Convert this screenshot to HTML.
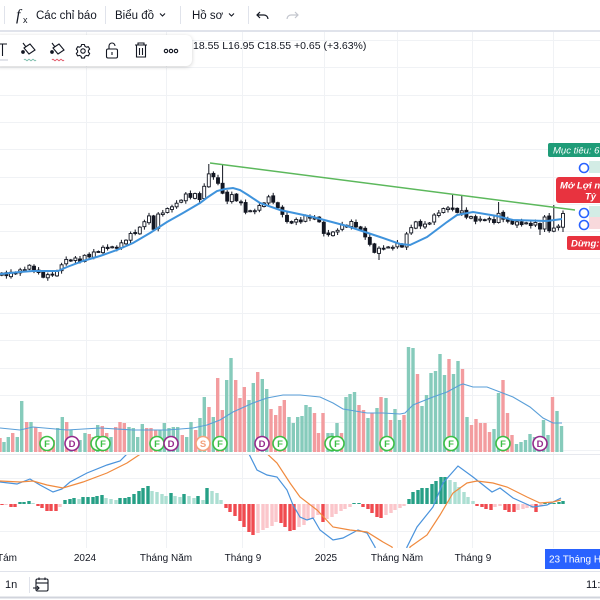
<!DOCTYPE html>
<html><head><meta charset="utf-8">
<style>
html,body{margin:0;padding:0;background:#fff;}
body{width:600px;height:600px;overflow:hidden;position:relative;font-family:"Liberation Sans","DejaVu Sans",sans-serif;color:#131722;}
svg{position:absolute;left:0;top:0;}
.tb{position:absolute;left:-6px;top:35px;width:198px;height:31px;background:#fff;border-radius:6px;box-shadow:0 1px 4px rgba(0,0,0,0.18);}
</style></head>
<body>
<svg id="c" width="600" height="600" viewBox="0 0 600 600" xmlns="http://www.w3.org/2000/svg" font-family="Liberation Sans, DejaVu Sans, sans-serif">
  <defs>
    <clipPath id="mclip"><rect x="0" y="455" width="600" height="93"/></clipPath>
    <clipPath id="pclip"><rect x="0" y="32" width="600" height="422"/></clipPath>
  </defs>
  <g id="grid" stroke="#f0f2f5" stroke-width="1"></g>
  <g id="vol"></g>
  <polyline id="vma" fill="none" stroke="#5a9fd8" stroke-width="1.1"></polyline>
  <g id="evt"></g>
  <g id="candles" clip-path="url(#pclip)"></g>
  <polyline id="ma" fill="none" stroke="#3f93dc" stroke-width="2"></polyline>
  <line x1="210" y1="163" x2="575" y2="210" stroke="#5cb85c" stroke-width="1.5"/>
  <!-- right side position tool -->
  <rect x="589" y="161" width="11" height="12" fill="#d3ece5"/>
  <rect x="589" y="206" width="11" height="11" fill="#d3ece5"/>
  <rect x="589" y="217" width="11" height="12" fill="#f8d9dc"/>
  <rect x="548" y="143" width="60" height="14" rx="2" fill="#1f9c78"/>
  <text x="553" y="153.5" font-size="9.5" font-style="italic" fill="#fff">Mục tiêu: 6</text>
  <circle cx="584" cy="168" r="4.5" fill="#fff" stroke="#2962ff" stroke-width="1.6"/>
  <rect x="556" y="177" width="52" height="26" rx="3" fill="#e8333f"/>
  <text x="560" y="188.5" font-size="9.5" font-style="italic" font-weight="bold" fill="#fff">Mở Lợi n</text>
  <text x="585" y="199.5" font-size="9.5" font-style="italic" font-weight="bold" fill="#fff">Tỷ</text>
  <circle cx="584" cy="213" r="4.5" fill="#fff" stroke="#2962ff" stroke-width="1.6"/>
  <circle cx="584" cy="225" r="4.5" fill="#fff" stroke="#2962ff" stroke-width="1.6"/>
  <rect x="567" y="236" width="40" height="14" rx="2" fill="#e8333f"/>
  <text x="571" y="246.5" font-size="9.5" font-style="italic" font-weight="bold" fill="#fff">Dừng:</text>

  <!-- pane separator -->
  <line x1="0" y1="454.5" x2="600" y2="454.5" stroke="#e6e8ee" stroke-width="1"/>
  <g id="hist"></g>
  <g clip-path="url(#mclip)">
    <polyline id="mblue" fill="none" stroke="#4a93dc" stroke-width="1.2"></polyline>
    <polyline id="morange" fill="none" stroke="#f08a3e" stroke-width="1.2"></polyline>
  </g>

  <!-- time axis -->
  <g font-size="10" fill="#131722">
    <text x="-3" y="561">Tám</text>
    <text x="85" y="561" text-anchor="middle">2024</text>
    <text x="166" y="561" text-anchor="middle">Tháng Năm</text>
    <text x="243" y="561" text-anchor="middle">Tháng 9</text>
    <text x="326" y="561" text-anchor="middle">2025</text>
    <text x="397" y="561" text-anchor="middle">Tháng Năm</text>
    <text x="473" y="561" text-anchor="middle">Tháng 9</text>
  </g>
  <rect x="545" y="549" width="60" height="20" fill="#2962ff"/>
  <text x="549" y="562.5" font-size="10" fill="#fff">23 Tháng Ha</text>

  <!-- bottom bar -->
  <line x1="0" y1="571.5" x2="600" y2="571.5" stroke="#e0e3eb" stroke-width="1"/>
  <text x="5" y="588" font-size="11" fill="#131722">1n</text>
  <line x1="29.5" y1="577" x2="29.5" y2="593" stroke="#e0e3eb" stroke-width="1"/>
  <g fill="none" stroke="#131722" stroke-width="1.1">
    <rect x="36" y="579" width="12" height="12" rx="1.5"/>
    <line x1="36" y1="583" x2="48" y2="583"/>
    <line x1="39" y1="577.5" x2="39" y2="580"/>
    <line x1="45" y1="577.5" x2="45" y2="580"/>
    <path d="M33 588 h6 M37 586 l2 2 l-2 2"/>
  </g>
  <text x="586" y="588" font-size="11" fill="#131722">11:</text>
  <line x1="0" y1="597.5" x2="600" y2="597.5" stroke="#d1d4dc" stroke-width="2"/>

  <!-- top toolbar -->
  <rect x="0" y="0" width="600" height="30" fill="#fff"/>
  <rect x="0" y="30" width="600" height="2" fill="#e0e3eb"/>
  <line x1="4.5" y1="6" x2="4.5" y2="24" stroke="#e0e3eb"/>
  <text x="16" y="20" font-size="16" font-style="italic" font-family="Liberation Serif, serif" fill="#131722">f</text>
  <text x="23" y="23" font-size="9" fill="#131722">x</text>
  <text x="36" y="19" font-size="11.5" fill="#131722">Các chỉ báo</text>
  <line x1="105.5" y1="6" x2="105.5" y2="24" stroke="#e0e3eb"/>
  <text x="115" y="19" font-size="11.5" fill="#131722">Biểu đồ</text>
  <path d="M160 13.5 l2.5 2.5 l2.5 -2.5" fill="none" stroke="#131722" stroke-width="1.1"/>
  <line x1="180.5" y1="6" x2="180.5" y2="24" stroke="#e0e3eb"/>
  <text x="192" y="19" font-size="11.5" fill="#131722">Hồ sơ</text>
  <path d="M229 13.5 l2.5 2.5 l2.5 -2.5" fill="none" stroke="#131722" stroke-width="1.1"/>
  <line x1="248.5" y1="6" x2="248.5" y2="24" stroke="#e0e3eb"/>
  <path d="M260 12 l-3 3 l3 3 M257 15 h7 a4 4 0 0 1 4 4" fill="none" stroke="#131722" stroke-width="1.2"/>
  <path d="M295 12 l3 3 l-3 3 M298 15 h-7 a4 4 0 0 0 -4 4" fill="none" stroke="#c3c6ce" stroke-width="1.2"/>

  <!-- OHLC legend -->
  <text x="193" y="49" font-size="10.5" fill="#131722">18.55 L16.95 C18.55 +0.65 (+3.63%)</text>
</svg>

<div class="tb">
<svg width="198" height="31" viewBox="0 0 198 31" style="position:absolute;left:0;top:0" xmlns="http://www.w3.org/2000/svg">
  <g transform="translate(6,0)" fill="none" stroke="#131722" stroke-width="1.1">
    <path d="M-2 9 h9 M2.5 9 v12"/>
    <line x1="-2" y1="25" x2="8" y2="25" stroke="#d8dbe2" stroke-width="1.5"/>
    <!-- bucket 1 -->
    <path d="M24 13 l6 -4 l5 6 l-6 4 z"/>
    <path d="M26 12 l-3 -4"/>
    <circle cx="23" cy="17" r="1.3" fill="#131722"/>
    <path d="M24 25 q1 -1.5 2 0 t2 0 t2 0 t2 0 t2 0 t2 0" stroke="#7fbfae" stroke-width="1"/>
    <!-- bucket 2 -->
    <path d="M53 13 l6 -4 l5 6 l-6 4 z"/>
    <path d="M55 12 l-3 -4"/>
    <circle cx="52" cy="17" r="1.3" fill="#131722"/>
    <path d="M52 25 q1 -1.5 2 0 t2 0 t2 0 t2 0 t2 0 t2 0" stroke="#e35a6a" stroke-width="1"/>
    <!-- gear (outline) -->
    <path d="M81.6 9.5 h2.8 l0.5 1.8 l1.6 0.9 l1.8 -0.5 l1.4 2.4 l-1.3 1.3 v1.8 l1.3 1.3 l-1.4 2.4 l-1.8 -0.5 l-1.6 0.9 l-0.5 1.8 h-2.8 l-0.5 -1.8 l-1.6 -0.9 l-1.8 0.5 l-1.4 -2.4 l1.3 -1.3 v-1.8 l-1.3 -1.3 l1.4 -2.4 l1.8 0.5 l1.6 -0.9 z" stroke-linejoin="round"/>
    <circle cx="83" cy="16" r="2.2"/>
    <!-- lock -->
    <rect x="106.5" y="14" width="11" height="9" rx="1.5"/>
    <path d="M109 14 v-3 a3 3 0 0 1 6 0"/>
    <line x1="112" y1="17" x2="112" y2="20"/>
    <!-- trash -->
    <path d="M135 10 h12 M138 10 v-2 h6 v2 M136.5 10 v12 h9 v-12 M139.5 13 v7 M142.5 13 v7"/>
    <!-- dots -->
    <circle cx="166" cy="16" r="1.7"/>
    <circle cx="171" cy="16" r="1.7"/>
    <circle cx="176" cy="16" r="1.7"/>
  </g>
</svg>
</div>

<script>
(function(){
const NS='http://www.w3.org/2000/svg';
function el(tag,a,p){const e=document.createElementNS(NS,tag);for(const k in a)e.setAttribute(k,a[k]);p.appendChild(e);return e;}
function $(id){return document.getElementById(id);}
function interp(kp,x){
  if(x<=kp[0][0])return kp[0][1];
  for(let i=1;i<kp.length;i++){if(x<=kp[i][0]){const a=kp[i-1],b=kp[i];return a[1]+(b[1]-a[1])*(x-a[0])/(b[0]-a[0]);}}
  return kp[kp.length-1][1];
}
function pts(a){return a.map(p=>p[0]+','+p[1]).join(' ');}

// grid
const g=$('grid');
[86,166,242,324,397,472,553].forEach(x=>el('line',{x1:x+.5,y1:32,x2:x+.5,y2:548},g));
for(let k=0;k<16;k++){const y=Math.round(40+27.3*k)+.5;el('line',{x1:0,y1:y,x2:600,y2:y},g);}
[478.5,531.5].forEach(y=>el('line',{x1:0,y1:y,x2:600,y2:y},g));

// volume
const vol=[[0,438,'r'],[4,442,'g'],[8.3,437,'g'],[12.7,433,'r'],[17.3,437,'g'],[21.7,401,'g'],[26.7,422,'r'],[31,422,'g'],[35.7,427,'r'],[40,432,'r'],[44.3,437,'r'],[49,440,'r'],[53.3,440,'r'],[57.7,428,'g'],[62.3,417,'g'],[66.7,422,'r'],[71,430,'g'],[75.7,438,'r'],[80,440,'g'],[85,433,'g'],[89.3,434,'r'],[93.3,437,'r'],[97.7,425,'g'],[102.3,426,'r'],[106.7,433,'r'],[111,437,'g'],[115.7,427,'r'],[120,422,'r'],[124.3,423,'r'],[129,427,'g'],[133.3,428,'g'],[137.7,437,'g'],[142.3,424,'g'],[146.7,428,'r'],[151,428,'r'],[155.7,430,'r'],[160,430,'g'],[164.3,423,'g'],[169,428,'g'],[173.3,427,'g'],[177.7,427,'g'],[182.3,435,'r'],[186.7,437,'g'],[191,422,'g'],[195.7,430,'r'],[200,418,'g'],[204.3,397,'g'],[209,407,'r'],[213.3,417,'g'],[217.7,378,'r'],[222.3,410,'r'],[226.7,380,'g'],[231,358,'g'],[235.7,380,'r'],[240,398,'r'],[244.3,387,'r'],[249,400,'g'],[253.3,383,'g'],[257.7,372,'r'],[262.3,379,'g'],[266.7,389,'g'],[271,409,'r'],[275.7,415,'r'],[280,406,'r'],[284.3,400,'r'],[289,417,'g'],[293.3,423,'g'],[297.7,417,'g'],
[302,416,'g'],[306,405,'g'],[310,407,'g'],[314.5,413,'r'],[318.5,433,'r'],[323,413,'r'],[328,433,'g'],[332,433,'g'],[337,423,'g'],[341.5,433,'r'],[346,397,'g'],[350,394,'g'],[354.5,392,'g'],[359,405,'r'],[363.5,410,'r'],[368,418,'g'],[372,413,'r'],[377,408,'g'],[381,397,'r'],[386,398,'g'],[390.5,420,'r'],[395,409,'g'],[399.5,420,'g'],[404,415,'r'],[408.5,347,'g'],[413,348,'g'],[417.5,374,'r'],[422,406,'g'],[426.5,395,'g'],[431,373,'g'],[435.5,371,'g'],[440,354,'g'],[444.5,375,'g'],[449,359,'r'],[453.5,374,'g'],[458,361,'g'],[462.5,369,'r'],[467,417,'g'],[471.5,425,'r'],[476,419,'r'],[480.5,423,'r'],[485,423,'r'],[489.5,432,'r'],[494,429,'g'],[498.5,393,'g'],[503,380,'r'],[507.5,413,'r'],[512,435,'r'],[516.5,444,'g'],[521,442,'g'],[525.5,440,'g'],[530,434,'g'],[534.5,437,'g'],[539,440,'g'],[543.5,420,'g'],[548,435,'g'],[552.5,397,'r'],[557,411,'g'],[561.5,426,'g']];
const vg=$('vol');
vol.forEach(v=>el('rect',{x:v[0]-1.7,y:v[1],width:3.4,height:452-v[1],fill:v[2]=='g'?'#86cbbb':'#f39c9f'},vg));
$('vma').setAttribute('points',pts([[0,428],[20,430],[33,427],[67,430],[100,428],[133,430],[167,430],[193,428],[207,425],[220,420],[233,412],[253,403],[267,398],[283,395],[300,395],[320,397],[333,403],[343,409],[367,413],[383,413],[400,414],[405,413],[413,405],[433,397],[447,392],[460,385],[463,384],[473,387],[487,387],[500,392],[513,397],[530,407],[543,418],[553,423],[562,423]]));

// event circles
const ev=[[47,'F'],[72,'D'],[98,'F'],[103,'F'],[157,'F'],[171,'D'],[203,'S'],[220,'F'],[262,'D'],[280,'F'],[332,'F'],[337,'F'],[387,'F'],[451,'F'],[503,'F'],[540,'D']];
const eg=$('evt');
const col={F:'#3cbf46',D:'#952a8c',S:'#f3a27c'};
ev.forEach(e=>{el('circle',{cx:e[0],cy:443.5,r:7,fill:'#fff',stroke:col[e[1]],'stroke-width':1.6},eg);
 const t=el('text',{x:e[0],y:447,'font-size':9.5,'font-weight':'bold','text-anchor':'middle',fill:col[e[1]]},eg);t.textContent=e[1];});

// candles
const kp=[[0,273],[10,274],[20,272],[25,268],[30,266],[35,268],[40,275],[45,277],[50,276],[55,272],[58,270],[62,262],[70,260],[80,260],[85,256],[95,252],[100,250],[110,247],[120,246],[125,240],[130,236],[135,232],[140,228],[145,218],[150,216],[153,230],[158,216],[163,212],[168,208],[173,204],[178,205],[183,196],[190,196],[197,194],[202,200],[207,170],[212,178],[217,180],[221,190],[226,200],[230,197],[234,195],[238,203],[242,205],[247,213],[252,211],[257,206],[262,206],[266,198],[270,199],[274,202],[278,208],[283,213],[287,223],[292,222],[300,221],[307,215],[312,216],[316,220],[320,221],[324,236],[328,234],[333,232],[338,228],[343,226],[348,226],[352,223],[357,226],[362,232],[366,235],[371,248],[376,253],[380,249],[385,247],[390,247],[395,244],[400,245],[404,247],[408,230],[413,224],[418,222],[423,225],[428,224],[432,219],[437,214],[441,210],[446,207],[450,205],[454,214],[459,210],[463,214],[467,216],[472,218],[477,219],[482,220],[486,219],[491,221],[495,222],[500,210],[504,219],[508,223],[513,223],[518,224],[522,223],[527,224],[531,223],[536,223],[540,228],[545,218],[549,230],[554,228],[558,225],[563,215]];
const jit=[0,2,-1.5,1,-2,1.5,-1,2.5,-0.5,1,-1.8,0.8];
const cg=$('candles');
let prev=null;
const hiOv=[[207,164],[221,164],[453,195],[463,195],[500,202],[552,205]];
const loOv=[[378,260],[540,235],[562,232]];
for(let i=0;i<123;i++){
  const x=1.8+i*4.6;
  let c=interp(kp,x)+jit[i%12];
  let o=prev===null?c+2:prev+[0.5,-0.5,1,0,-1][i%5];
  prev=c;
  let top=Math.min(o,c),bot=Math.max(o,c);
  let hi=top-(1+(i*7)%3),lo=bot+(1+(i*11)%3);
  hiOv.forEach(h=>{if(Math.abs(h[0]-x)<2.4)hi=Math.min(hi,h[1]);});
  loOv.forEach(h=>{if(Math.abs(h[0]-x)<2.4)lo=Math.max(lo,h[1]);});
  el('line',{x1:x,y1:hi,x2:x,y2:lo,stroke:'#131722','stroke-width':1},cg);
  const up=c<o;
  el('rect',{x:x-1.5,y:top,width:3,height:Math.max(1,bot-top),fill:up?'#fff':'#131722',stroke:'#131722','stroke-width':0.9},cg);
}
$('ma').setAttribute('points',pts([[0,274],[20,272],[33,271],[58,271],[67,267],[83,261],[100,256],[117,250],[133,243],[150,233],[167,222],[183,213],[200,203],[208,197],[217,191],[225,189],[233,188],[240,190],[248,195],[260,203],[280,210],[313,217],[347,226],[380,237],[400,244],[410,245],[427,237],[447,222],[457,215],[473,212],[497,216],[513,220],[547,221],[562,219]]));

// MACD histogram
const H=[[2,505,'R'],[6,505,'P'],[11,507,'R'],[15,507,'R'],[20,502,'G'],[24,502,'G'],[29,501,'G'],[33,503,'L'],[38,506,'R'],[42,508,'R'],[47,511,'R'],[51,511,'R'],[56,511,'R'],[60,507,'P'],[65,500,'G'],[70,499,'G'],[74,498,'G'],[79,499,'L'],[83,497,'G'],[88,497,'G'],[93,497,'G'],[97,496,'G'],[102,495,'G'],[106,498,'L'],[111,499,'L'],[116,500,'L'],[120,498,'G'],[125,498,'G'],[129,497,'G'],[134,494,'G'],[139,491,'G'],[143,488,'G'],[148,486,'G'],[152,491,'L'],[157,492,'L'],[162,494,'L'],[166,496,'L'],[171,493,'G'],[175,496,'L'],[180,497,'L'],[184,494,'G'],[189,496,'L'],[194,498,'L'],[198,496,'G'],[203,500,'L'],[207,488,'G'],[212,491,'L'],[217,493,'L'],[221,500,'L'],[226,508,'R'],[230,512,'R'],[235,516,'R'],[240,521,'R'],[244,527,'R'],[249,532,'R'],[253,535,'R'],[258,533,'P'],[263,530,'P'],[267,528,'P'],[272,526,'P'],[276,522,'P'],[281,523,'R'],[285,527,'R'],[290,531,'R'],[294,530,'R'],[299,527,'P'],[304,525,'P'],[308,520,'P'],[313,518,'P'],[318,515,'P'],[323,522,'R'],[327,519,'P'],[332,517,'P'],[336,514,'P'],[341,511,'P'],[345,509,'P'],[350,507,'P'],[354,503,'G'],[359,503,'G'],[363,507,'R'],[368,509,'R'],[372,513,'R'],[377,517,'R'],[381,518,'R'],[386,515,'P'],[391,513,'P'],[395,510,'P'],[400,508,'P'],[404,506,'P'],[409,499,'G'],[413,492,'G'],[418,490,'G'],[422,488,'G'],[427,488,'G'],[432,484,'G'],[436,481,'G'],[441,477,'G'],[445,477,'G'],[450,480,'L'],[455,482,'L'],[459,487,'L'],[464,492,'L'],[468,497,'L'],[473,501,'L'],[477,506,'R'],[482,507,'R'],[486,509,'R'],[491,510,'R'],[495,507,'P'],[500,506,'P'],[505,510,'R'],[509,512,'R'],[514,512,'R'],[518,510,'P'],[523,509,'P'],[527,508,'P'],[532,508,'P'],[536,512,'R'],[541,506,'P'],[545,503,'G'],[550,503,'G'],[554,503,'G'],[559,502,'G'],[563,501,'G']];
const hc={G:'#26a086',L:'#acdfd2',R:'#f04a4f',P:'#fbc6cb'};
const hg=$('hist');
H.forEach(h=>{const y0=504;const t=Math.min(h[1],y0),b=Math.max(h[1],y0);
 el('rect',{x:h[0]-1.7,y:t,width:3.4,height:Math.max(1,b-t),fill:hc[h[2]]},hg);});
$('mblue').setAttribute('points',pts([[0,482],[17,484],[30,479],[40,485],[53,492],[62,489],[70,482],[87,473],[107,465],[120,461],[128,453],[135,440],[150,420],[235,420],[247,450],[257,470],[267,475],[277,477],[287,490],[293,505],[300,517],[307,520],[313,518],[320,530],[333,540],[343,538],[358,530],[367,533],[375,547],[380,570],[400,570],[407,547],[417,527],[433,507],[443,483],[458,466],[473,477],[492,492],[500,488],[513,498],[533,507],[547,505],[561,498]]));
$('morange').setAttribute('points',pts([[0,481],[20,482],[33,481],[47,485],[63,488],[83,482],[107,473],[127,463],[142,453],[155,430],[250,430],[263,450],[277,463],[290,483],[300,497],[317,510],[333,527],[350,530],[367,532],[383,542],[392,547],[398,570],[405,570],[410,547],[427,535],[440,515],[453,493],[467,483],[477,481],[493,483],[507,487],[527,497],[540,503],[553,502],[561,500]]));
})();
</script>
</body></html>
